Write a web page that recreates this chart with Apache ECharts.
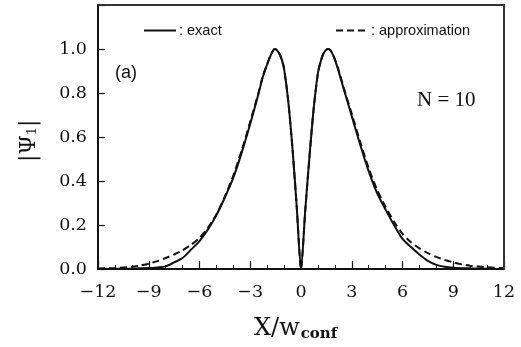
<!DOCTYPE html>
<html>
<head>
<meta charset="utf-8">
<script src="https://cdn.jsdelivr.net/npm/echarts@6/dist/echarts.min.js"></script>
<style>
  html, body { margin: 0; padding: 0; background: #fff; }
  #chart { width: 521px; height: 347px; }
</style>
</head>
<body>
<div id="chart"></div>
<script>
// |Psi_1| for N = 10: exact solution and approximation
const exactX = [-12, -11, -10, -9, -8.5, -8, -7.5, -7, -6.5, -6, -5.5, -5, -4.5, -4, -3.5, -3, -2.5, -2.25, -2, -1.8, -1.65, -1.55, -1.45, -1.3, -1.15, -1.0, -0.75, -0.5, -0.25, 0,
                0.25, 0.5, 0.75, 1.0, 1.15, 1.3, 1.45, 1.6, 1.75, 1.95, 2.2, 2.5, 3, 3.5, 4, 4.5, 5, 5.5, 6, 6.5, 7, 7.5, 8, 8.5, 9, 10, 11, 12];
const exactY = [0.000, 0.001, 0.002, 0.004, 0.007, 0.012, 0.030, 0.050, 0.088, 0.127, 0.180, 0.245, 0.325, 0.415, 0.530, 0.660, 0.800, 0.875, 0.930, 0.970, 0.992, 1.000, 0.997, 0.982, 0.955, 0.910, 0.760, 0.545, 0.280, 0.000,
                0.265, 0.510, 0.730, 0.890, 0.940, 0.975, 0.994, 1.000, 0.993, 0.962, 0.905, 0.825, 0.695, 0.565, 0.445, 0.345, 0.270, 0.200, 0.137, 0.100, 0.066, 0.037, 0.019, 0.010, 0.006, 0.003, 0.001, 0.000];

const approxX = [-12, -11, -10, -9.5, -9, -8.5, -8, -7.5, -7, -6.5, -6, -5.5, -5, -4.5, -4, -3.5, -3, -2.5, -2.25, -2, -1.8, -1.65, -1.55, -1.45, -1.3, -1.15, -1.0, -0.75, -0.5, -0.25, 0,
                 0.25, 0.5, 0.75, 1.0, 1.15, 1.3, 1.45, 1.6, 1.75, 1.95, 2.2, 2.5, 3, 3.5, 4, 4.5, 5, 5.5, 6, 6.5, 7, 7.5, 8, 8.5, 9, 9.5, 10, 11, 12];
const approxY = [0.002, 0.005, 0.010, 0.016, 0.024, 0.036, 0.050, 0.066, 0.085, 0.110, 0.142, 0.188, 0.248, 0.330, 0.425, 0.540, 0.670, 0.805, 0.878, 0.932, 0.971, 0.993, 1.000, 0.997, 0.982, 0.955, 0.910, 0.760, 0.545, 0.280, 0.000,
                 0.265, 0.510, 0.730, 0.890, 0.940, 0.975, 0.994, 1.000, 0.994, 0.964, 0.910, 0.830, 0.705, 0.578, 0.458, 0.360, 0.282, 0.215, 0.160, 0.122, 0.094, 0.072, 0.055, 0.041, 0.030, 0.021, 0.015, 0.008, 0.004];

const xTicks = [-12, -9, -6, -3, 0, 3, 6, 9, 12];
const yTicks = [0.0, 0.2, 0.4, 0.6, 0.8, 1.0];

const exactName = ': exact';
const approxName = ': approximation';

const zip = (xs, ys) => xs.map((x, i) => [x, ys[i]]);

const chart = echarts.init(document.getElementById('chart'), null, { renderer: 'canvas' });

const ink = '#111';
const serif = 'DejaVu Serif';
const sans = 'Liberation Sans';

// plot box
const box = { left: 98, top: 5, right: 504, bottom: 269 };

const legendBase = {
  itemWidth: 32, itemHeight: 14, itemGap: 0, selectedMode: false,
  itemStyle: { opacity: 0 },
  textStyle: { fontFamily: sans, fontSize: 14.5, color: ink, padding: [0, 0, 0, -2] }
};

chart.setOption({
  animation: false,
  backgroundColor: '#fff',
  grid: { left: box.left, right: 521 - box.right, top: box.top, bottom: 347 - box.bottom },
  legend: [
    Object.assign({ data: [exactName], left: 138, top: 18 }, legendBase),
    Object.assign({ data: [approxName], left: 330, top: 18 }, legendBase)
  ],
  xAxis: {
    type: 'value', min: -12, max: 12, interval: 3,
    axisLine: { show: true, onZero: false, lineStyle: { color: ink, width: 2 } },
    axisTick: { show: true, inside: true, length: 8, lineStyle: { color: ink, width: 1.2 } },
    minorTick: { show: true, splitNumber: 3, length: 4, lineStyle: { color: ink, width: 1 } },
    splitLine: { show: false },
    axisLabel: {
      margin: 14, fontFamily: serif, fontSize: 17.5, color: ink,
      formatter: v => xTicks.includes(v) ? String(v).replace('-', '\u2212') : ''
    }
  },
  yAxis: {
    type: 'value', min: 0, max: 1.2, interval: 0.2,
    axisLine: { show: true, onZero: false, lineStyle: { color: ink, width: 2 } },
    axisTick: { show: true, inside: true, length: 7, lineStyle: { color: ink, width: 1.2 } },
    splitLine: { show: false },
    axisLabel: {
      margin: 11, fontFamily: serif, fontSize: 17.5, color: ink,
      formatter: v => yTicks.some(t => Math.abs(t - v) < 1e-9) ? v.toFixed(1) : ''
    }
  },
  series: [
    {
      name: approxName, type: 'line', data: zip(approxX, approxY),
      symbol: 'none', smooth: 0.25, z: 2,
      lineStyle: { color: ink, width: 2, type: [7, 4] },
      itemStyle: { color: ink }
    },
    {
      name: exactName, type: 'line', data: zip(exactX, exactY),
      symbol: 'none', smooth: 0.25, z: 3,
      lineStyle: { color: ink, width: 2, type: 'solid' },
      itemStyle: { color: ink }
    }
  ],
  graphic: [
    {
      // top and right edges of the frame
      type: 'polyline', silent: true, z: 10,
      shape: { points: [[box.left, box.top], [box.right, box.top], [box.right, box.bottom]] },
      style: { stroke: '#333', lineWidth: 2, fill: null }
    },
    { type: 'text', left: 115, top: 64, style: { text: '(a)', fontFamily: sans, fontSize: 18, fill: ink } },
    { type: 'text', left: 417, top: 90, style: { text: 'N = 10', fontFamily: 'Liberation Serif', fontSize: 21, fill: ink } },
    {
      type: 'text', left: 254, top: 317,
      style: {
        text: '{a|X/w}{b|conf}',
        rich: {
          a: { fontFamily: serif, fontSize: 24, fill: ink, fontWeight: 'normal' },
          b: { fontFamily: serif, fontSize: 15, fill: ink, fontWeight: 'bold', padding: [11, 0, 0, 1] }
        }
      }
    },
    {
      type: 'text', x: 18, y: 162, rotation: Math.PI / 2,
      style: {
        text: '{a||\u03A8}{b|1}{a||}',
        rich: {
          a: { fontFamily: serif, fontSize: 22, fill: ink },
          b: { fontFamily: serif, fontSize: 13, fill: ink, padding: [8, 0, 0, 0] }
        }
      }
    }
  ]
});
</script>
</body>
</html>
